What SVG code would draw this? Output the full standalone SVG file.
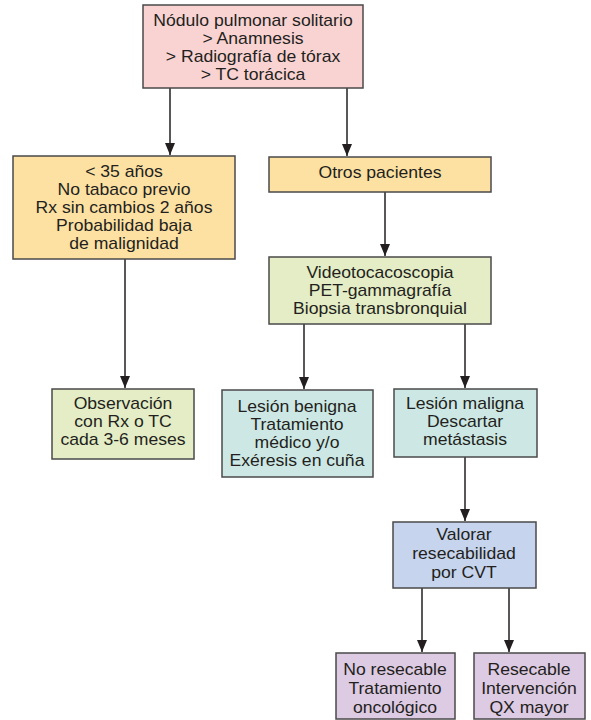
<svg xmlns="http://www.w3.org/2000/svg" width="591" height="720" viewBox="0 0 591 720">
<defs>
<style>
.box{stroke:#4a4a4a;stroke-width:1.5}
.t{font-family:"Liberation Sans",Arial,sans-serif;font-size:16px;fill:#231f20;text-anchor:middle}
.c{stroke:#231f20;stroke-width:1.5;fill:none;marker-end:url(#ah)}
</style>
<marker id="ah" viewBox="0 0 12 10" refX="12" refY="5" markerWidth="12" markerHeight="10" markerUnits="userSpaceOnUse" orient="auto">
<path d="M0,0 L12,5 L0,10 z" fill="#231f20"/>
</marker>
</defs>
<rect width="591" height="720" fill="#fff"/>
<g id="connectors">
<line class="c" x1="170" y1="88" x2="170" y2="155"/>
<line class="c" x1="347" y1="88" x2="347" y2="156"/>
<line class="c" x1="125" y1="259" x2="125" y2="388"/>
<line class="c" x1="385" y1="192" x2="385" y2="256"/>
<line class="c" x1="304" y1="324" x2="304" y2="389"/>
<line class="c" x1="465" y1="324" x2="465" y2="388"/>
<line class="c" x1="465" y1="457" x2="465" y2="521"/>
<line class="c" x1="422" y1="588" x2="422" y2="652"/>
<line class="c" x1="509" y1="588" x2="509" y2="652"/>
</g>
<g id="n1">
<rect class="box" x="143" y="5" width="220" height="83" fill="#f9d3d2"/>
<g class="t" transform="translate(253 0) scale(1.1 1)">
<text x="0" y="26">Nódulo pulmonar solitario</text>
<text x="0" y="44">&gt; Anamnesis</text>
<text x="0" y="62">&gt; Radiografía de tórax</text>
<text x="0" y="80">&gt; TC torácica</text>
</g>
</g>
<g id="n2">
<rect class="box" x="13" y="156" width="222" height="103" fill="#fde1a2"/>
<g class="t" transform="translate(124 0) scale(1.1 1)">
<text x="0" y="177">&lt; 35 años</text>
<text x="0" y="195">No tabaco previo</text>
<text x="0" y="213">Rx sin cambios 2 años</text>
<text x="0" y="231">Probabilidad baja</text>
<text x="0" y="249">de malignidad</text>
</g>
</g>
<g id="n3">
<rect class="box" x="269" y="157" width="222" height="35" fill="#fde1a2"/>
<g class="t" transform="translate(380 0) scale(1.1 1)">
<text x="0" y="178">Otros pacientes</text>
</g>
</g>
<g id="n4">
<rect class="box" x="269" y="257" width="222" height="67" fill="#e4edc5"/>
<g class="t" transform="translate(380 0) scale(1.1 1)">
<text x="0" y="278">Videotocacoscopia</text>
<text x="0" y="296">PET-gammagrafía</text>
<text x="0" y="314">Biopsia transbronquial</text>
</g>
</g>
<g id="n5">
<rect class="box" x="52" y="389" width="142" height="70" fill="#e4edc5"/>
<g class="t" transform="translate(123 0) scale(1.1 1)">
<text x="0" y="409">Observación</text>
<text x="0" y="427">con Rx o TC</text>
<text x="0" y="445">cada 3-6 meses</text>
</g>
</g>
<g id="n6">
<rect class="box" x="222" y="390" width="151" height="87" fill="#cde8e4"/>
<g class="t" transform="translate(297 0) scale(1.1 1)">
<text x="0" y="412">Lesión benigna</text>
<text x="0" y="430">Tratamiento</text>
<text x="0" y="448">médico y/o</text>
<text x="0" y="466">Exéresis en cuña</text>
</g>
</g>
<g id="n7">
<rect class="box" x="394" y="389" width="143" height="68" fill="#cde8e4"/>
<g class="t" transform="translate(465 0) scale(1.1 1)">
<text x="0" y="409">Lesión maligna</text>
<text x="0" y="427">Descartar</text>
<text x="0" y="445">metástasis</text>
</g>
</g>
<g id="n8">
<rect class="box" x="393" y="522" width="143" height="66" fill="#c6d4ed"/>
<g class="t" transform="translate(464 0) scale(1.1 1)">
<text x="0" y="540">Valorar</text>
<text x="0" y="559">resecabilidad</text>
<text x="0" y="578">por CVT</text>
</g>
</g>
<g id="n9">
<rect class="box" x="336" y="653" width="119" height="66" fill="#ddcae3"/>
<g class="t" transform="translate(395 0) scale(1.1 1)">
<text x="0" y="675">No resecable</text>
<text x="0" y="694">Tratamiento</text>
<text x="0" y="713">oncológico</text>
</g>
</g>
<g id="n10">
<rect class="box" x="474" y="653" width="111" height="66" fill="#ddcae3"/>
<g class="t" transform="translate(529 0) scale(1.1 1)">
<text x="0" y="675">Resecable</text>
<text x="0" y="694">Intervención</text>
<text x="0" y="713">QX mayor</text>
</g>
</g>
</svg>
